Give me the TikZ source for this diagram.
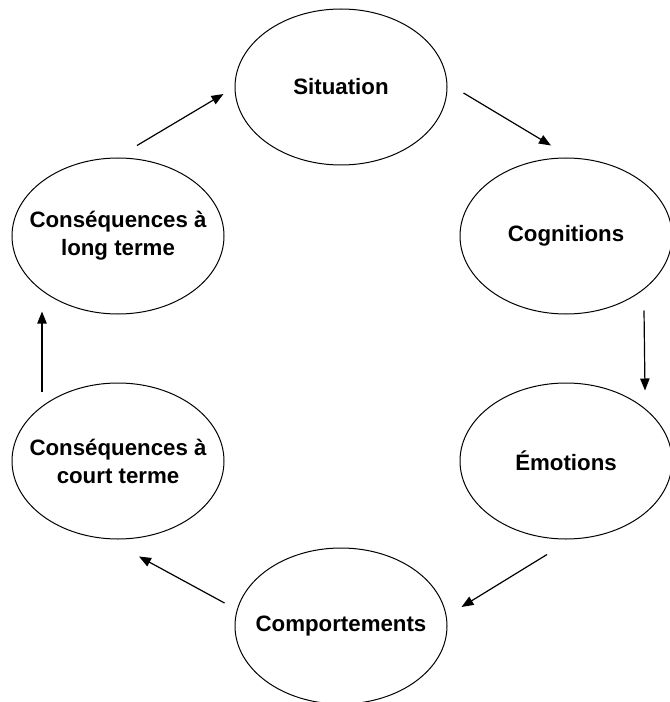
\documentclass[tikz,border=0pt]{standalone}
\usepackage{fontspec}
\setmainfont{Liberation Sans}
\usetikzlibrary{arrows.meta,positioning,shapes.geometric,calc}

\tikzset{
  etat/.style={ellipse, draw, line width=0.75pt, minimum width=159pt, minimum height=117pt,
    inner xsep=-60pt, inner ysep=-30pt, align=center, font=\fontsize{16.7}{21}\selectfont\bfseries},
  fleche/.style={-{Triangle[length=9pt,width=7pt]}, line width=0.9pt}
}

\begin{document}
\begin{tikzpicture}[x=0.75pt,y=-0.75pt,on grid]
   \useasboundingbox (0,0) rectangle (669,702);
   \node[etat] (situation) at (341,87) {Situation};
   \node[etat] (cognitions) [below right=111.75pt and 168.75pt of situation] {Cognitions};
   \node[etat] (emotions) [below=168.75pt of cognitions] {Émotions};
   \node[etat] (comportements) [below=404.25pt of situation] {Comportements};
   \node[etat] (long) [below left=111.75pt and 167.25pt of situation] {Conséquences à\\long terme};
   \node[etat] (court) [below=168.75pt of long] {Conséquences à\\court terme};
    % le cycle
    \draw[fleche] ($(long.north)+(19,-12)$) -- ($(situation.west)+(-11,7)$);
    \draw[fleche] ($(situation.east)+(16,6)$) -- ($(cognitions.north)+(-15,-12)$);
    \draw[fleche] ($(cognitions.south)+(78,-4)$) -- ($(emotions.north)+(79,8)$);
    \draw[fleche] ($(emotions.south)+(-19,15)$) -- ($(comportements.east)+(14,-19)$);
    \draw[fleche] ($(comportements.west)+(-10,-23)$) -- ($(court.south)+(21,17)$);
    \draw[fleche] ($(court.north)+(-76,9)$) -- ($(long.south)+(-76,-3)$);
\end{tikzpicture}
\end{document}
